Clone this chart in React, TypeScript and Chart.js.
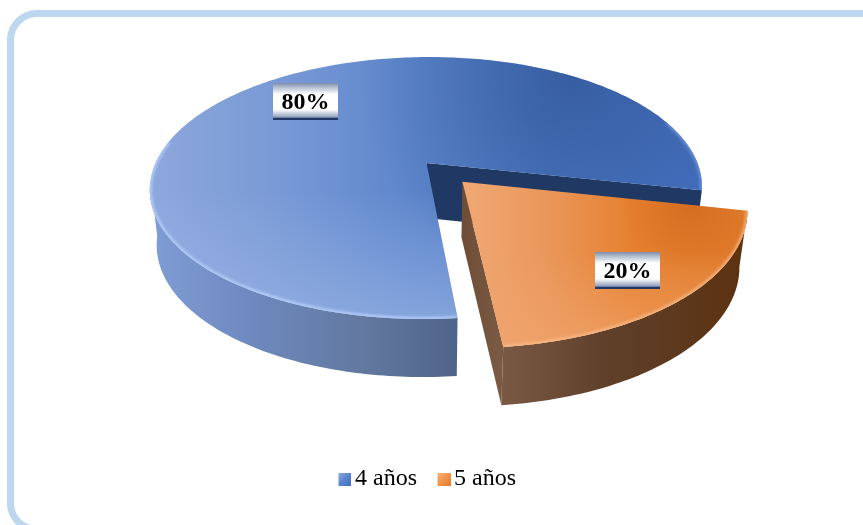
import React, { useEffect, useRef } from "react";
import { Chart, registerables } from "chart.js";

Chart.register(...registerables);

// Shares of children by age
const categories = ["4 años", "5 años"];
const shares = [80, 20];
// Fraction of the disc radius each slice is pulled out by
const explode = [0, 0.195];

const SERIF = '"Liberation Serif", "Times New Roman", serif';
const rad = Math.PI / 180;

// Perspective view of a disc lying flat, h = 0 on the top face, h = 1 on the bottom
const view = { cx: 426.5, cy: 163, a: 271, b: 126.2, p: 0.191, shear: 3.2, depth: 55 };
function project(u: number, v: number, h: number): [number, number] {
  const w = 1 - view.p * v;
  const shrink = 1 - 0.025 * h;
  const x = view.cx + ((view.a * u - view.shear * v) * shrink) / w;
  const y = view.cy + (view.b * v) / w + view.depth * h * (1 + 0.055 * v);
  return [x, y];
}

function rimPoints(a0: number, a1: number, ox: number, oy: number, h: number) {
  const n = Math.max(2, Math.ceil(Math.abs(a1 - a0) / rad));
  const pts: [number, number][] = [];
  for (let i = 0; i <= n; i++) {
    const t = a0 + ((a1 - a0) * i) / n;
    pts.push(project(ox + Math.cos(t), oy + Math.sin(t), h));
  }
  return pts;
}

function trace(ctx: CanvasRenderingContext2D, pts: [number, number][], close = true) {
  ctx.beginPath();
  pts.forEach(([x, y], i) => (i ? ctx.lineTo(x, y) : ctx.moveTo(x, y)));
  if (close) ctx.closePath();
}

function linear(ctx: CanvasRenderingContext2D, x0: number, y0: number, x1: number, y1: number, stops: [number, string][]) {
  const g = ctx.createLinearGradient(x0, y0, x1, y1);
  stops.forEach(([o, c]) => g.addColorStop(o, c));
  return g;
}

function radial(ctx: CanvasRenderingContext2D, x: number, y: number, r: number, stops: [number, string][]) {
  const g = ctx.createRadialGradient(x, y, 0, x, y, r);
  stops.forEach(([o, c]) => g.addColorStop(o, c));
  return g;
}

// Draws the first slice: the cut wall, the curved wall and the shaded top
function drawBlue(ctx: CanvasRenderingContext2D, a0: number, a1: number) {
  const top = rimPoints(a0, a1, 0, 0, 0);
  // The curved wall is only seen as far round as the left-hand silhouette
  const silhouette = 172 * rad;
  const wallTop = rimPoints(a0, silhouette, 0, 0, 0);
  const wallBottom = rimPoints(a0, silhouette, 0, 0, 1).reverse();
  trace(ctx, [...wallTop, ...wallBottom]);
  ctx.fillStyle = linear(ctx, 150, 0, 457, 0, [
    [0, "#7f9dd6"],
    [0.35, "#6d88bd"],
    [0.7, "#62789f"],
    [1, "#50648a"],
  ]);
  ctx.fill();

  const end = a1;
  trace(ctx, [
    project(0, 0, 0),
    project(Math.cos(end), Math.sin(end), 0),
    project(Math.cos(end), Math.sin(end), 1),
    project(0, 0, 1),
  ]);
  ctx.fillStyle = "#1f3864";
  ctx.fill();

  ctx.save();
  trace(ctx, [project(0, 0, 0), ...top]);
  ctx.clip();
  ctx.fillStyle = linear(ctx, 150, 0, 700, 0, [
    [0, "#8da8dc"],
    [0.22, "#7a9ad6"],
    [0.45, "#6088cd"],
    [0.72, "#4c78c3"],
    [1, "#4470bf"],
  ]);
  ctx.fillRect(140, 50, 570, 280);
  ctx.fillStyle = linear(ctx, 0, 190, 0, 320, [
    [0, "rgba(160,185,232,0)"],
    [1, "rgba(160,185,232,0.6)"],
  ]);
  ctx.fillRect(140, 50, 570, 280);
  ctx.fillStyle = radial(ctx, 570, 80, 210, [
    [0, "rgba(42,78,140,0.6)"],
    [1, "rgba(42,78,140,0)"],
  ]);
  ctx.fillRect(140, 50, 570, 280);
  ctx.filter = "blur(1.6px)";
  ctx.lineWidth = 4;
  ctx.strokeStyle = "rgba(188,212,255,0.85)";
  trace(ctx, rimPoints(a0, 190 * rad, 0, 0, 0), false);
  ctx.stroke();
  ctx.strokeStyle = "rgba(125,160,225,0.7)";
  trace(ctx, rimPoints(340 * rad, a1, 0, 0, 0), false);
  ctx.stroke();
  ctx.restore();
}

// Draws the pulled-out slice
function drawOrange(ctx: CanvasRenderingContext2D, a0: number, a1: number, ex: number) {
  const mid = (a0 + a1) / 2;
  const ox = ex * Math.cos(mid);
  const oy = ex * Math.sin(mid);
  const top = rimPoints(a0, a1, ox, oy, 0);
  const bottom = rimPoints(a0, a1, ox, oy, 1).reverse();

  const wall = linear(ctx, 462, 0, 745, 0, [
    [0, "#6f4c35"],
    [0.13, "#7a5a44"],
    [0.5, "#5f402b"],
    [1, "#5c3210"],
  ]);
  trace(ctx, [
    project(ox, oy, 0),
    project(ox + Math.cos(a1), oy + Math.sin(a1), 0),
    project(ox + Math.cos(a1), oy + Math.sin(a1), 1),
    project(ox, oy, 1),
  ]);
  ctx.fillStyle = wall;
  ctx.fill();
  trace(ctx, [...top, ...bottom]);
  ctx.fillStyle = wall;
  ctx.fill();

  ctx.save();
  trace(ctx, [project(ox, oy, 0), ...top]);
  ctx.clip();
  ctx.fillStyle = linear(ctx, 464, 0, 746, 0, [
    [0, "#f0a874"],
    [0.3, "#ea965a"],
    [0.6, "#e6802f"],
    [1, "#df7a2b"],
  ]);
  ctx.fillRect(455, 175, 300, 180);
  ctx.fillStyle = linear(ctx, 0, 250, 0, 345, [
    [0, "rgba(240,165,110,0)"],
    [1, "rgba(240,165,110,0.7)"],
  ]);
  ctx.fillRect(455, 175, 300, 180);
  ctx.fillStyle = radial(ctx, 690, 205, 70, [
    [0, "rgba(205,100,25,0.6)"],
    [1, "rgba(205,100,25,0)"],
  ]);
  ctx.fillRect(455, 175, 300, 180);
  ctx.filter = "blur(1.6px)";
  ctx.lineWidth = 4;
  ctx.strokeStyle = "rgba(250,190,140,0.8)";
  trace(ctx, top, false);
  ctx.stroke();
  ctx.restore();
}

// White tag with shaded top and bottom bands, centred on a point of the slice
function drawTag(ctx: CanvasRenderingContext2D, text: string, x: number, y: number) {
  const w = 65;
  const h = 37;
  const left = Math.round(x - w / 2 - 4);
  const topY = Math.round(y - h / 2);
  ctx.fillStyle = linear(ctx, 0, topY, 0, topY + h, [
    [0, "#7d8da9"],
    [0.12, "#b4bfd0"],
    [0.3, "#ffffff"],
    [0.72, "#ffffff"],
    [0.88, "#a9b5ca"],
    [0.93, "#8798ba"],
    [0.94, "#1f3864"],
    [1, "#1f3864"],
  ]);
  ctx.fillRect(left, topY, w, h);
  ctx.fillStyle = "#000000";
  ctx.font = `bold 24px ${SERIF}`;
  ctx.textAlign = "center";
  ctx.textBaseline = "middle";
  ctx.fillText(text, left + w / 2, topY + h / 2 + 1);
}

const tagRadius = [0.72, 0.79];

const pie3d = {
  id: "pie3d",
  beforeDatasetsDraw(chart: any) {
    const ctx = chart.ctx as CanvasRenderingContext2D;
    const arcs = chart.getDatasetMeta(0).data;
    ctx.save();
    drawBlue(ctx, arcs[0].startAngle, arcs[0].endAngle);
    drawOrange(ctx, arcs[1].startAngle, arcs[1].endAngle, explode[1]);
    arcs.forEach((arc: any, i: number) => {
      const mid = (arc.startAngle + arc.endAngle) / 2;
      const ox = explode[i] * Math.cos(mid);
      const oy = explode[i] * Math.sin(mid);
      const [x, y] = project(ox + tagRadius[i] * Math.cos(mid), oy + tagRadius[i] * Math.sin(mid), 0);
      drawTag(ctx, `${shares[i]}%`, x, y);
    });
    ctx.restore();
    return false;
  },
};

// Legend marker: a shaded square set to the right of a clear margin
function swatch(from: string, mid: string, to: string) {
  const c = document.createElement("canvas");
  c.width = 17;
  c.height = 13;
  const g = c.getContext("2d")!;
  g.fillStyle = linear(g as any, 4, 0, 17, 13, [
    [0, from],
    [0.5, mid],
    [1, to],
  ]);
  g.fillRect(4, 0, 13, 13);
  return c;
}

export default function App() {
  const ref = useRef<HTMLCanvasElement>(null);

  useEffect(() => {
    const marks = [swatch("#8fabe0", "#5b86d0", "#3f6cbd"), swatch("#f8b27c", "#f2954d", "#e57c2c")];
    const chart = new Chart(ref.current!, {
      type: "pie",
      data: {
        labels: categories,
        datasets: [{ data: shares, borderWidth: 0, backgroundColor: ["#4472c4", "#ed7d31"] }],
      },
      options: {
        responsive: false,
        animation: false,
        rotation: 174,
        layout: { padding: { bottom: 24, right: 4 } },
        plugins: {
          tooltip: { enabled: false },
          title: { display: false },
          legend: {
            display: true,
            position: "bottom",
            labels: {
              usePointStyle: true,
              pointStyleWidth: 0.1,
              padding: 25,
              color: "#000000",
              font: { family: SERIF, size: 24 },
              generateLabels: () =>
                categories.map((text, i) => ({
                  text,
                  pointStyle: marks[i],
                  fontColor: "#000000",
                  lineWidth: 0,
                  datasetIndex: 0,
                  index: i,
                })) as any,
            },
          },
        },
      },
      plugins: [pie3d],
    });
    return () => chart.destroy();
  }, []);

  return (
    <div style={{ position: "absolute", left: 0, top: 0, width: 863, height: 525, overflow: "hidden", background: "#ffffff" }}>
      <div
        style={{
          position: "absolute",
          left: 7,
          top: 10,
          width: 900,
          height: 523,
          boxSizing: "border-box",
          border: "7px solid #bdd7ee",
          borderRadius: 30,
        }}
      />
      <canvas ref={ref} width={863} height={525} style={{ position: "absolute", left: 0, top: 0, display: "block" }} />
    </div>
  );
}
